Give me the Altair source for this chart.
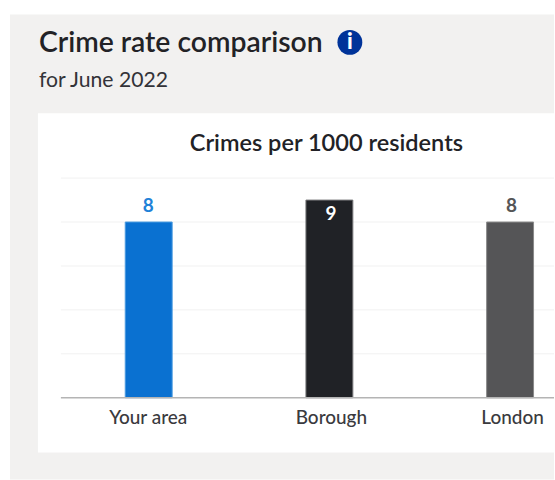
import altair as alt
import pandas as pd

# Chart values
areas = ["Your area", "Borough", "London"]
crimes = [8, 9, 8]
fills = ["#0a71d1", "#202226", "#555557"]
edges = ["#4a9be0", "#77787a", "#8a8a8a"]
value_colors = ["#1f82d8", "#ffffff", "#555557"]
value_shift = [-16.5, 14, -16.5]
value_nudge = [-0.5, 1.5, 1.5]
label_nudge = [-0.5, 2, 2.5]
y_ticks = [0, 2, 4, 6, 8, 10]

FONT = "Lato"
rows = pd.DataFrame({"area": areas, "crimes": crimes})
one = pd.DataFrame({"k": [0]})

# The plot fills the canvas: two units of the y scale span 44 pixels, zero sits low on the page.
y_scale = alt.Scale(domain=[-82 / 22, 398 / 22], nice=False, zero=False)
x_scale = alt.Scale(type="point", domain=areas, padding=0.533, align=0.772)


def block(x0, x1, y0, y1, color):
    """Flat panel rectangle in canvas pixels."""
    return (
        alt.Chart(one)
        .mark_rect(color=color)
        .encode(
            x=alt.value(x0), x2=alt.value(x1), y=alt.value(y0), y2=alt.value(y1)
        )
    )


def caption(text, x, y, size, weight, color, align="left"):
    return (
        alt.Chart(one)
        .mark_text(
            text=text,
            font=FONT,
            fontSize=size,
            fontWeight=weight,
            color=color,
            align=align,
            baseline="middle",
        )
        .encode(x=alt.value(x), y=alt.value(y))
    )


layers = [
    block(10, 555, 14, 480, "#f2f1f0"),
    block(38, 555, 113, 453, "#ffffff"),
    caption("Crime rate comparison", 39, 43, 28.4, 600, "#222226"),
    caption("for June 2022", 39, 81, 21.2, 400, "#333338"),
    alt.Chart(one)
    .mark_point(filled=True, shape="circle", size=620, color="#003399", opacity=1)
    .encode(x=alt.value(350.5), y=alt.value(42)),
    caption("i", 350.5, 42, 22, 900, "#ffffff", "center"),
    caption("Crimes per 1000 residents", 327, 144, 23.6, 600, "#222226", "center"),
]

# Horizontal guides
layers.append(
    alt.Chart(pd.DataFrame({"tick": y_ticks[1:]}))
    .mark_rule(color="#f1f1f1", strokeWidth=1)
    .encode(
        y=alt.Y("tick:Q", scale=y_scale, axis=None),
        x=alt.value(61),
        x2=alt.value(555),
    )
)

# One bar and one value label per area
x_enc = alt.X("area:N", scale=x_scale, axis=None)
y_enc = alt.Y("crimes:Q", scale=y_scale, axis=None, stack=None)
for i, area in enumerate(areas):
    row = rows[rows["area"] == area]
    layers.append(
        alt.Chart(row)
        .mark_bar(size=47, fill=fills[i], stroke=edges[i], strokeWidth=1)
        .encode(x=x_enc, y=y_enc)
    )

# Axis baseline
layers.append(
    alt.Chart(pd.DataFrame({"tick": y_ticks[:1]}))
    .mark_rule(color="#b4b4b4", strokeWidth=1.5)
    .encode(
        y=alt.Y("tick:Q", scale=y_scale, axis=None),
        x=alt.value(61),
        x2=alt.value(555),
    )
)

for i, area in enumerate(areas):
    row = rows[rows["area"] == area]
    layers.append(
        alt.Chart(row)
        .mark_text(
            font=FONT,
            fontSize=19,
            fontWeight=700,
            baseline="middle",
            color=value_colors[i],
            dx=value_nudge[i],
            dy=value_shift[i],
        )
        .encode(x=x_enc, y=y_enc, text=alt.Text("crimes:Q"))
    )
    # Category label under the baseline
    layers.append(
        alt.Chart(row.assign(base=0))
        .mark_text(
            font=FONT,
            fontSize=19,
            fontWeight=500,
            baseline="middle",
            color="#3a3a3e",
            dx=label_nudge[i],
            dy=20.5,
        )
        .encode(
            x=x_enc,
            y=alt.Y("base:Q", scale=y_scale, axis=None),
            text=alt.Text("area:N"),
        )
    )

chart = (
    alt.layer(*layers)
    .properties(width=555, height=480, padding=0)
    .configure_view(stroke=None)
)

chart.save("out.html", embed_options={"renderer": "svg", "actions": False})
